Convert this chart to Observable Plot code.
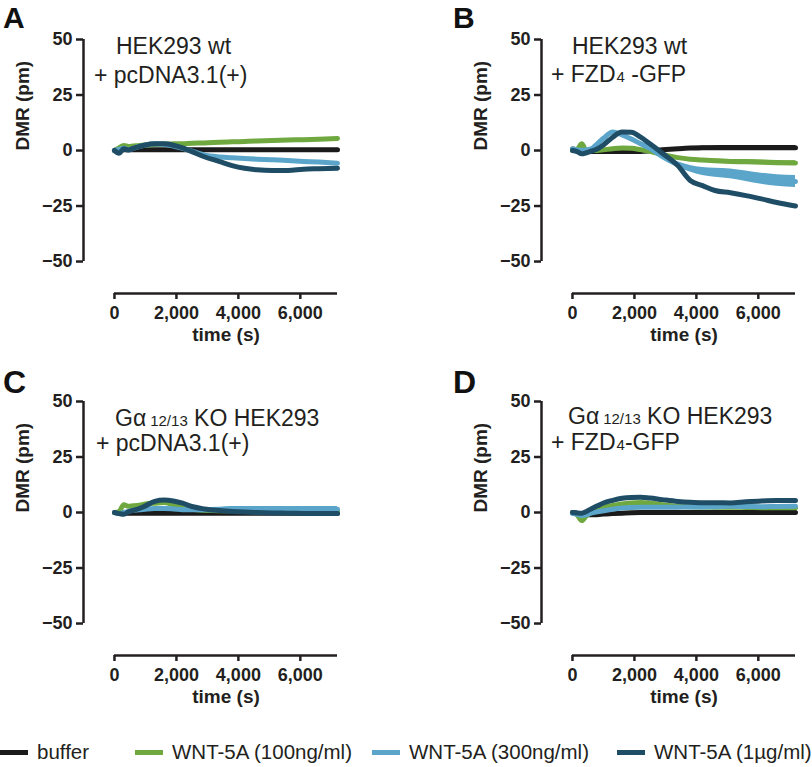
<!DOCTYPE html>
<html><head><meta charset="utf-8">
<script src="https://cdn.jsdelivr.net/npm/d3@7"></script>
<script src="https://cdn.jsdelivr.net/npm/@observablehq/plot@0.6"></script>
<style>
body{margin:0;background:#fff;}
#fig{position:relative;width:812px;height:767px;overflow:hidden;font-family:"Liberation Sans",Arial,sans-serif;color:#231f20;background:#fff;}
.panel{position:absolute;}
.panel svg{overflow:visible;}
.litem{position:absolute;top:740px;height:24px;display:flex;align-items:center;font-size:20.5px;white-space:nowrap;}
.sw{display:inline-block;width:28px;height:5px;margin-right:9px;}
</style></head>
<body><div id="fig"></div>
<script>
// ---- data ----
const time = [0,150,300,450,600,800,1000,1300,1600,1900,2200,2500,2900,3400,3800,4200,4600,5100,5600,6100,6600,7200];
const seriesNames = ["buffer","WNT-5A (100ng/ml)","WNT-5A (300ng/ml)","WNT-5A (1µg/ml)"];
const seriesColors = ["#1b1b1b","#6ea83e","#5aa5c9","#1f4d66"];
const yTicks = [-50,-25,0,25,50];
const xTicks = [0,2000,4000,6000];

const aBuffer = [0,0.2,0.3,0.3,0.3,0.3,0.3,0.3,0.3,0.3,0.3,0.3,0.3,0.3,0.3,0.3,0.3,0.4,0.4,0.4,0.4,0.4];
const a100    = [0,1.2,2.3,1.8,2.0,2.3,2.5,2.7,2.9,3.0,3.1,3.3,3.4,3.7,3.9,4.1,4.3,4.5,4.7,4.9,5.1,5.4];
const a300    = [0,0.5,1.0,0.3,1.0,1.8,2.5,3.0,2.8,2.0,1.0,-0.3,-2.0,-2.9,-3.3,-3.6,-3.9,-4.2,-4.5,-4.9,-5.2,-5.7];
const a1000   = [0,-1.2,0.8,0.2,1.0,1.8,2.5,3.0,3.0,2.4,1.2,-0.5,-2.8,-5.0,-6.8,-8.0,-8.7,-9.0,-9.0,-8.4,-8.2,-8.0];

const bBuffer = [0.7,0.3,0,-0.3,-0.4,-0.4,-0.4,-0.4,-0.4,-0.4,-0.4,-0.2,0.3,0.8,1.1,1.2,1.3,1.3,1.3,1.3,1.3,1.3];
const b100    = [0,0.5,3.0,0,0,0,0.3,0.8,1.1,1.0,0.4,-0.3,-1.8,-3.2,-3.9,-4.3,-4.6,-4.9,-5.1,-5.3,-5.5,-5.6];
const b300    = [0.7,0.3,0,0.3,0.7,3.0,5.5,8.3,7.0,5.2,3.0,1.0,-2.7,-6.3,-8.2,-9.5,-10.0,-10.5,-11.6,-12.7,-13.5,-14.0];
const b1000   = [0,-0.5,-1.5,-1.0,-0.3,0.7,2.5,6.0,8.3,8.2,6.0,3.0,-1.2,-6.8,-13.5,-15.8,-18.0,-19.0,-20.3,-21.8,-23.4,-25.0];
const bSpreadBuffer = [0,0,0,0,0,0,0,0,0,0,0,0,0.3,0.5,0.7,0.8,0.9,1.0,1.0,1.0,1.0,1.0];
const bSpread100    = [0,0,0,0,0,0,0,0,0,0,0,0,0.3,0.5,0.6,0.7,0.8,0.9,1.0,1.0,1.0,1.0];
const bSpread300    = [0,0,0,0,0,0,0.3,0.5,0.5,0.5,0.5,0.5,0.8,1.2,1.5,1.8,2.0,2.2,2.4,2.5,2.6,2.7];
const bSpread1000   = [0,0,0,0,0,0,0.3,0.3,0.3,0.3,0.3,0.3,0.3,0.3,0.3,0.3,0.3,0.3,0.3,0.3,0.3,0.3];

const cBuffer = [0,0,-0.3,-0.3,-0.3,-0.3,-0.3,-0.3,-0.3,-0.3,-0.3,-0.3,-0.3,-0.3,-0.3,-0.3,-0.3,-0.3,-0.3,-0.3,-0.3,-0.3];
const c100    = [0,0.5,3.5,2.8,3.0,3.3,3.8,4.2,4.5,3.5,2.4,1.5,1.0,0.8,0.8,0.8,0.8,0.8,0.8,0.8,0.8,0.8];
const c300    = [0,-0.5,0,0.5,1.0,1.2,1.5,1.8,1.8,1.6,1.3,1.2,1.2,1.3,1.5,1.5,1.5,1.5,1.5,1.5,1.5,1.5];
const c1000   = [0,-0.5,-0.8,0.3,1.0,1.8,3.0,5.0,5.6,5.2,4.2,2.7,1.6,0.9,0.5,0.2,0,-0.2,-0.3,-0.4,-0.5,-0.5];
const cSpread300 = [0,0,0,0,0.3,0.5,0.6,0.7,0.8,0.8,0.9,1.0,1.0,1.1,1.2,1.2,1.2,1.2,1.2,1.2,1.2,1.2];

const dBuffer = [0,-0.3,-1.0,-1.0,-1.0,-1.0,-0.7,-0.5,-0.3,-0.1,0,0,0,0,0,0,0,0,0,0,0,0];
const d100    = [0,-1.0,-3.6,-1.5,0,1.0,2.2,3.2,3.9,4.3,4.5,4.2,3.5,2.8,2.6,2.5,2.4,2.4,2.3,2.2,2.1,2.1];
const d300    = [-0.5,-0.8,-1.3,-1.0,-0.3,0.3,0.8,1.5,2.0,2.3,2.4,2.4,2.4,2.4,2.5,2.5,2.6,2.8,2.7,2.6,2.7,2.8];
const d1000   = [0,-0.2,-0.3,0.5,1.6,3.0,4.3,5.5,6.4,6.8,6.9,6.5,5.8,5.0,4.6,4.4,4.4,4.3,4.8,5.2,5.4,5.4];

// ---- layout ----
const xDomain = [-1000, 7200];
const yDomain = [-64.4, 50];
const panels = [
  {letter:"A", left:0,   top:0,   ml:83,  letterX:3,   letterY:28, letterSize:30,
   lines:[[["HEK293 wt"]],[["+ pcDNA3.1(+)"]]], tx:[116,94], ty:[54,83],
   series:[aBuffer,a100,a300,a1000], spread:[null,null,null,null]},
  {letter:"B", left:406, top:0,   ml:135, letterX:47,  letterY:28, letterSize:30,
   lines:[[["HEK293 wt"]],[["+ FZD"],["4","sub"],[" -GFP"]]], tx:[166,145], ty:[54,82],
   series:[bBuffer,b100,b300,b1000], spread:[bSpreadBuffer,bSpread100,bSpread300,bSpread1000]},
  {letter:"C", left:0,   top:362, ml:83,  letterX:3,   letterY:31, letterSize:32,
   lines:[[["G"],["α"],["12/13","sub"],[" KO HEK293"]],[["+ pcDNA3.1(+)"]]], tx:[115,96], ty:[64,89],
   series:[cBuffer,c100,c300,c1000], spread:[null,null,cSpread300,null]},
  {letter:"D", left:406, top:362, ml:135, letterX:47,  letterY:31, letterSize:32,
   lines:[[["G"],["α"],["12/13","sub"],[" KO HEK293"]],[["+ FZD"],["4","sub"],["-GFP"]]], tx:[162,145], ty:[62,88],
   series:[dBuffer,d100,d300,d1000], spread:[null,null,null,null]}
];

const fig = document.getElementById("fig");
const W = 406, H = 362, plotW = 254;

for (const p of panels) {
  const marks = [];
  p.series.forEach((vals, i) => {
    const rows = time.map((t, j) => ({t, v: vals[j], s: p.spread[i] ? p.spread[i][j] : 0, series: seriesNames[i]}));
    if (p.spread[i]) {
      marks.push(Plot.areaY(rows, {x: "t", y1: d => d.v - d.s, y2: d => d.v + d.s, fill: "series", curve: "monotone-x"}));
    }
    marks.push(Plot.line(rows, {x: "t", y: "v", stroke: "series", strokeWidth: 5, curve: "monotone-x", strokeLinejoin: "round", strokeLinecap: "round"}));
  });
  const chart = Plot.plot({
    width: W, height: H,
    marginTop: 39, marginBottom: H - 293, marginLeft: p.ml, marginRight: W - p.ml - plotW,
    x: {domain: xDomain},
    y: {domain: yDomain},
    color: {domain: seriesNames, range: seriesColors},
    style: {fontFamily: "'Liberation Sans', Arial, sans-serif", fontSize: "18px", fontWeight: "bold", color: "#231f20", background: "white", overflow: "visible"},
    marks: [
      Plot.ruleX([xDomain[0]], {y1: yTicks[0], y2: yTicks[yTicks.length - 1], strokeWidth: 2.5}),
      Plot.axisY({ticks: yTicks, tickSize: 7, tickPadding: 4, strokeWidth: 2.5, label: null, fontSize: 18, fontWeight: "bold"}),
      Plot.ruleY([yDomain[0]], {x1: xTicks[0], x2: xDomain[1], strokeWidth: 2.5}),
      Plot.axisX({ticks: xTicks, tickSize: 6, tickPadding: 7, strokeWidth: 2.5, tickFormat: d3.format(","), label: null, fontSize: 18, fontWeight: "bold"}),
      Plot.text([0], {y: d => d, text: () => "DMR (pm)", frameAnchor: "left", dx: -61, rotate: -90, fontSize: 19, fontWeight: "bold"}),
      Plot.text([(xTicks[0] + xDomain[1]) / 2], {x: d => d, text: () => "time (s)", frameAnchor: "bottom", dy: 47, fontSize: 19, fontWeight: "bold"}),
      ...marks
    ]
  });
  const div = document.createElement("div");
  div.className = "panel";
  div.style.left = p.left + "px";
  div.style.top = p.top + "px";
  div.appendChild(chart);
  fig.appendChild(div);

  const svg = d3.select(chart);
  svg.append("text").attr("x", p.letterX).attr("y", p.letterY).attr("text-anchor", "start")
    .attr("font-size", p.letterSize).attr("font-weight", "bold").attr("fill", "#111")
    .attr("font-family", "'Liberation Sans', Arial, sans-serif").text(p.letter);
  p.lines.forEach((segs, k) => {
    const t = svg.append("text").attr("x", p.tx[k]).attr("y", p.ty[k]).attr("text-anchor", "start")
      .attr("font-size", 23).attr("font-weight", "normal").attr("fill", "#231f20")
      .attr("font-family", "'Liberation Sans', Arial, sans-serif");
    segs.forEach(([s, kind]) => {
      const ts = t.append("tspan").text(s);
      if (kind === "sub") ts.attr("font-size", 15).attr("dx", s === "4" ? 1 : 4);
    });
  });
}

// legend
const legendLeft = [0, 135, 372, 617];
seriesNames.forEach((name, i) => {
  const item = document.createElement("div");
  item.className = "litem";
  item.style.left = legendLeft[i] + "px";
  const sw = document.createElement("span");
  sw.className = "sw";
  sw.style.background = seriesColors[i];
  item.appendChild(sw);
  const tx = document.createElement("span");
  tx.textContent = name;
  item.appendChild(tx);
  fig.appendChild(item);
});
</script>
</body></html>
